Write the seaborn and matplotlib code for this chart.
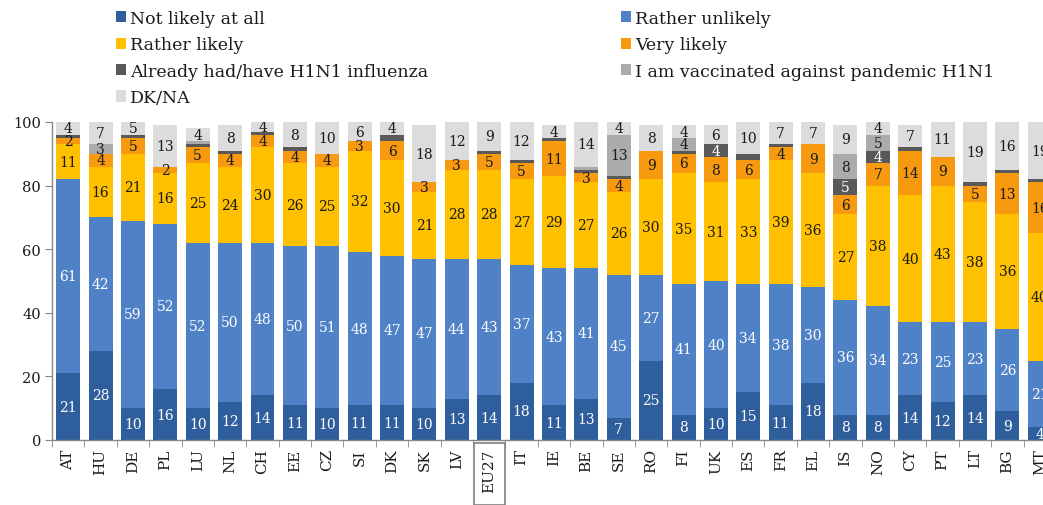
import numpy as np
import pandas as pd
import matplotlib
matplotlib.use("Agg")
import matplotlib.pyplot as plt
from matplotlib.patches import Patch, Rectangle
import seaborn as sns

countries = ["AT", "HU", "DE", "PL", "LU", "NL", "CH", "EE", "CZ", "SI", "DK", "SK", "LV",
             "EU27", "IT", "IE", "BE", "SE", "RO", "FI", "UK", "ES", "FR", "EL", "IS", "NO",
             "CY", "PT", "LT", "BG", "MT"]
not_likely = [21, 28, 10, 16, 10, 12, 14, 11, 10, 11, 11, 10, 13, 14, 18, 11, 13, 7, 25, 8, 10,
              15, 11, 18, 8, 8, 14, 12, 14, 9, 4]
rather_unlikely = [61, 42, 59, 52, 52, 50, 48, 50, 51, 48, 47, 47, 44, 43, 37, 43, 41, 45, 27, 41,
                   40, 34, 38, 30, 36, 34, 23, 25, 23, 26, 21]
rather_likely = [11, 16, 21, 16, 25, 24, 30, 26, 25, 32, 30, 21, 28, 28, 27, 29, 27, 26, 30, 35,
                 31, 33, 39, 36, 27, 38, 40, 43, 38, 36, 40]
very_likely = [2, 4, 5, 2, 5, 4, 4, 4, 4, 3, 6, 3, 3, 5, 5, 11, 3, 4, 9, 6, 8, 6, 4, 9, 6, 7, 14,
               9, 5, 13, 16]
already_had = [1, 0, 1, 0, 1, 1, 1, 1, 0, 0, 2, 0, 0, 1, 1, 1, 1, 1, 0, 1, 4, 2, 1, 0, 5, 4, 1,
               0, 1, 1, 1]
vaccinated = [0, 3, 0, 0, 1, 0, 0, 0, 0, 0, 0, 0, 0, 0, 0, 0, 1, 13, 0, 4, 0, 0, 0, 0, 8, 5, 0,
              0, 0, 0, 0]
dk_na = [4, 7, 5, 13, 4, 8, 4, 8, 10, 6, 4, 18, 12, 9, 12, 4, 14, 4, 8, 4, 6, 10, 7, 7, 9, 4, 7,
         11, 19, 16, 19]

series_names = ["Not likely at all", "Rather unlikely", "Rather likely", "Very likely",
                "Already had/have H1N1 influenza", "I am vaccinated against pandemic H1N1",
                "DK/NA"]
series_values = [not_likely, rather_unlikely, rather_likely, very_likely, already_had,
                 vaccinated, dk_na]
colors = ["#2F5E9C", "#4F81C6", "#FFC000", "#F79A10", "#595959", "#ABABAB", "#DCDCDC"]
label_colors = ["white", "white", "#1a1a1a", "#1a1a1a", "white", "#1a1a1a", "#1a1a1a"]
label_min = [2, 2, 2, 2, 3, 2, 2]

sns.set_style("white")
plt.rcParams["font.family"] = ["DejaVu Serif"]

fig = plt.figure(figsize=(10.43, 5.06), dpi=100)
ax = fig.add_axes([52 / 1043, 65 / 506, 1 - 52 / 1043, 318 / 506])

vals = np.array(series_values, dtype=float)
cum = np.cumsum(vals, axis=0)

# draw from the top layer down so lower layers overlay
for k in range(len(series_names) - 1, -1, -1):
    d = pd.DataFrame({"country": countries, "total": cum[k]})
    sns.barplot(data=d, x="country", y="total", order=countries, color=colors[k],
                saturation=1, width=0.74, errorbar=None, ax=ax, linewidth=0)

for k in range(len(series_names)):
    for i, c in enumerate(countries):
        v = vals[k, i]
        if v >= label_min[k]:
            bottom = cum[k, i] - v
            yc = min(bottom + v / 2, (bottom + 100) / 2)
            ax.text(i, yc, f"{int(v)}", ha="center", va="center", fontsize=10,
                    color=label_colors[k], clip_on=True)

ax.set_xlabel("")
ax.set_ylabel("")
ax.set_yticks([0, 20, 40, 60, 80, 100])
ax.tick_params(axis="y", which="major", length=5, color="#888888", labelsize=10.5,
               labelcolor="#1a1a1a", pad=3, left=True)
ax.set_xticks(range(len(countries)))
ax.set_xticklabels(countries, rotation=90, fontsize=11, color="#1a1a1a")
ax.tick_params(axis="x", which="major", length=0, pad=6)
ax.set_xticks(np.arange(-0.5, len(countries), 1.0), minor=True)
ax.tick_params(axis="x", which="minor", length=5, color="#888888", bottom=True)
ax.set_xlim(-0.5, 30.1)
ax.set_ylim(0, 100)
for s in ["top", "right"]:
    ax.spines[s].set_visible(False)
for s in ["left", "bottom"]:
    ax.spines[s].set_color("#888888")
    ax.spines[s].set_linewidth(1.0)

# box round EU27 label
idx = countries.index("EU27")
trans = matplotlib.transforms.blended_transform_factory(ax.transData, ax.transAxes)
ax.add_patch(Rectangle((idx - 0.48, -0.205), 0.96, 0.195, transform=trans, fill=False,
                       edgecolor="#808080", linewidth=1.2, clip_on=False))

handles = [Patch(facecolor=c, edgecolor="none") for c in colors]
left_idx = [0, 2, 4, 6]
right_idx = [1, 3, 5]
common = dict(frameon=False, fontsize=12.5, handlelength=0.6, handleheight=0.6,
              handletextpad=0.2, labelspacing=0.54, borderpad=0, borderaxespad=0,
              loc="upper left", labelcolor="#1a1a1a")
fig.legend([handles[i] for i in left_idx], [series_names[i] for i in left_idx],
           bbox_to_anchor=(116 / 1043, 1 - 11 / 506), **common)
fig.legend([handles[i] for i in right_idx], [series_names[i] for i in right_idx],
           bbox_to_anchor=(621 / 1043, 1 - 11 / 506), **common)

fig.savefig("out.png", dpi=100)
